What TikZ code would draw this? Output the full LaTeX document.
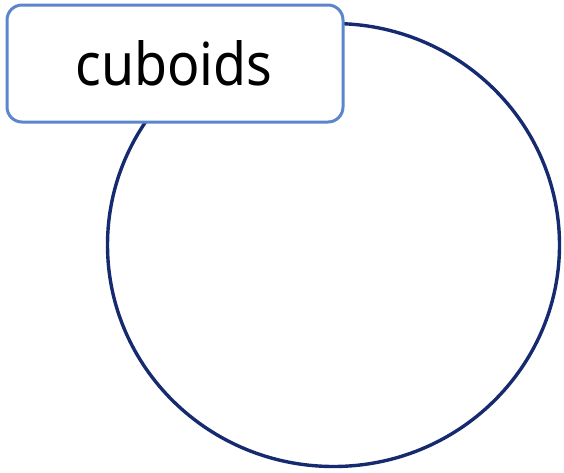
\documentclass[tikz,border=0pt]{standalone}
\usepackage{fontspec}
\setmainfont{Noto Sans}
\usepackage{graphicx}
\definecolor{navy}{RGB}{22,42,112}
\definecolor{boxblue}{RGB}{92,134,204}
\begin{document}
\begin{tikzpicture}[x=1pt,y=-1pt,
  ring/.style={draw=navy,line width=3.4pt},
  labelbox/.style={draw=boxblue,fill=white,line width=3pt,rounded corners=15pt}]
\useasboundingbox (0,0) rectangle (564,472);
\coordinate (c) at (333.5,245);
\draw[ring] (c) ellipse [x radius=226, y radius=221.5];
\path[labelbox] (7,5) rectangle (343,122);
\node[anchor=base,inner sep=0pt] (t) at (174,85) {\resizebox{197pt}{45pt}{\fontsize{60}{60}\selectfont cuboids}};
\end{tikzpicture}
\end{document}
